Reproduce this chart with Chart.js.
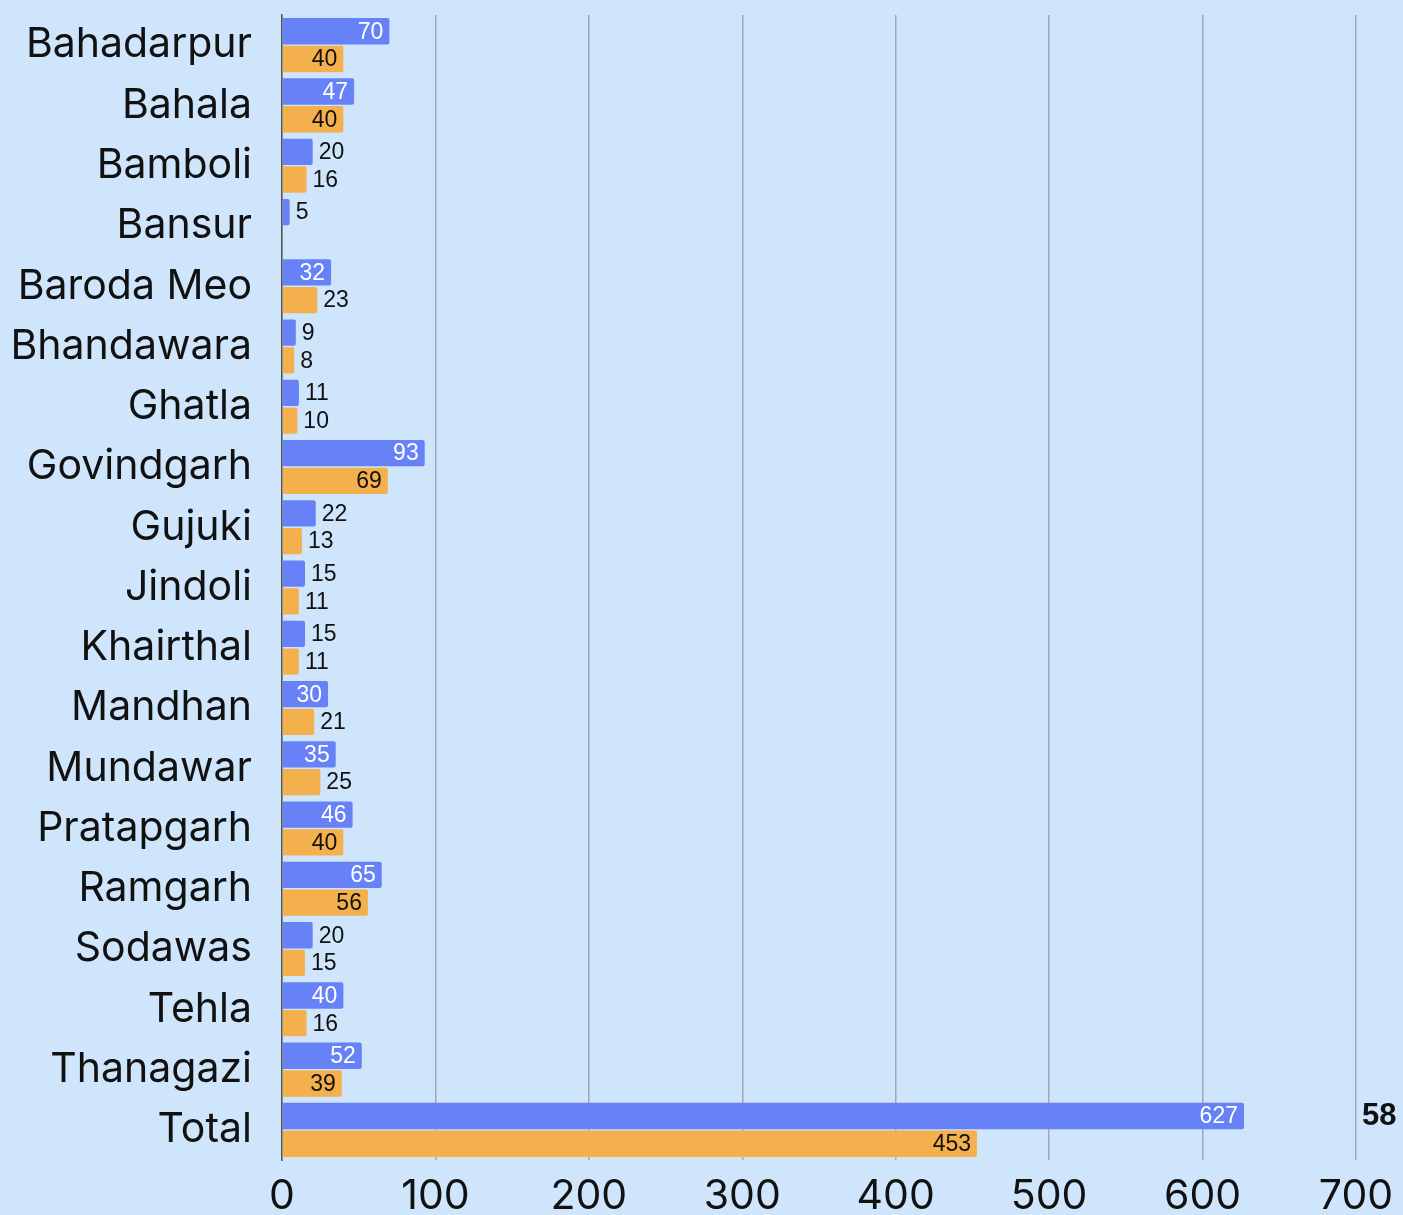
<!DOCTYPE html>
<html>
<head>
<meta charset="utf-8">
<script src="https://cdn.jsdelivr.net/npm/chart.js@4/dist/chart.umd.min.js"></script>
<style>
  html, body { margin: 0; padding: 0; background: #cfe5fc; }
  #wrap { width: 1403px; height: 1215px; position: relative; }
</style>
</head>
<body>
<div id="wrap"><canvas id="myChart"></canvas></div>
<script>
'use strict';
// chart data
const categories = ['Bahadarpur', 'Bahala', 'Bamboli', 'Bansur', 'Baroda Meo', 'Bhandawara', 'Ghatla',
  'Govindgarh', 'Gujuki', 'Jindoli', 'Khairthal', 'Mandhan', 'Mundawar', 'Pratapgarh', 'Ramgarh',
  'Sodawas', 'Tehla', 'Thanagazi', 'Total'];
const blueValues = [70, 47, 20, 5, 32, 9, 11, 93, 22, 15, 15, 30, 35, 46, 65, 20, 40, 52, 627];
const orangeValues = [40, 40, 16, 0, 23, 8, 10, 69, 13, 11, 11, 21, 25, 40, 56, 15, 16, 39, 453];
const xTicks = [0, 100, 200, 300, 400, 500, 600, 700];
const cornerNote = '58'; // clipped text at the right edge

const BLUE = '#6782f7';
const ORANGE = '#f4b04c';

// draws the value next to / inside each bar
const barLabels = {
  id: 'barLabels',
  afterDatasetsDraw(chart) {
    const ctx = chart.ctx;
    ctx.save();
    ctx.font = '23px "Liberation Sans", Arial, sans-serif';
    ctx.textBaseline = 'middle';
    chart.data.datasets.forEach((ds, di) => {
      const meta = chart.getDatasetMeta(di);
      meta.data.forEach((bar, i) => {
        const v = ds.data[i];
        if (!v) return;
        if (v >= 30) {
          ctx.textAlign = 'right';
          ctx.fillStyle = di === 0 ? '#ffffff' : '#111111';
          ctx.fillText(String(v), bar.x - 6, bar.y + 1);
        } else {
          ctx.textAlign = 'left';
          ctx.fillStyle = '#111111';
          ctx.fillText(String(v), bar.x + 6, bar.y + 1);
        }
      });
    });
    // the cut off note on the right
    const total = chart.getDatasetMeta(0).data[categories.length - 1];
    ctx.font = 'bold 31px "Liberation Sans", Arial, sans-serif';
    ctx.textAlign = 'left';
    ctx.fillStyle = '#111111';
    ctx.fillText(cornerNote, 1362, total.y);
    ctx.restore();
  }
};

const ctx = document.getElementById('myChart').getContext('2d');
new Chart(ctx, {
  type: 'bar',
  data: {
    labels: categories,
    datasets: [
      {
        data: blueValues,
        backgroundColor: BLUE,
        borderRadius: 2,
        borderSkipped: 'start',
        categoryPercentage: 0.92,
        barPercentage: 0.95,
      },
      {
        data: orangeValues,
        backgroundColor: ORANGE,
        borderRadius: 2,
        borderSkipped: 'start',
        categoryPercentage: 0.92,
        barPercentage: 0.95,
      },
    ],
  },
  options: {
    indexAxis: 'y',
    responsive: true,
    maintainAspectRatio: false,
    animation: false,
    layout: { padding: { top: 15, right: 47, left: 0, bottom: 0 } },
    plugins: {
      legend: { display: false },
      tooltip: { enabled: false },
    },
    scales: {
      x: {
        min: 0,
        max: 700,
        afterBuildTicks(scale) {
          scale.ticks = xTicks.map(v => ({ value: v }));
        },
        afterFit(scale) {
          scale.height = 55;
          scale.paddingLeft = 0;
          scale.paddingRight = 0;
        },
        grid: { color: '#9aa9bd', lineWidth: 1.5, drawTicks: false },
        border: { display: false },
        ticks: {
          color: '#111111',
          padding: 12,
          font: { family: 'Inter', size: 41 },
        },
      },
      y: {
        afterFit(scale) {
          scale.width = 282;
          scale.paddingTop = 0;
          scale.paddingBottom = 0;
        },
        grid: { display: false },
        border: { display: true, color: '#555555', width: 1.5 },
        ticks: {
          color: '#111111',
          padding: 22,
          font: { family: 'Inter', size: 41 },
        },
      },
    },
  },
  plugins: [barLabels],
});
</script>
</body>
</html>
